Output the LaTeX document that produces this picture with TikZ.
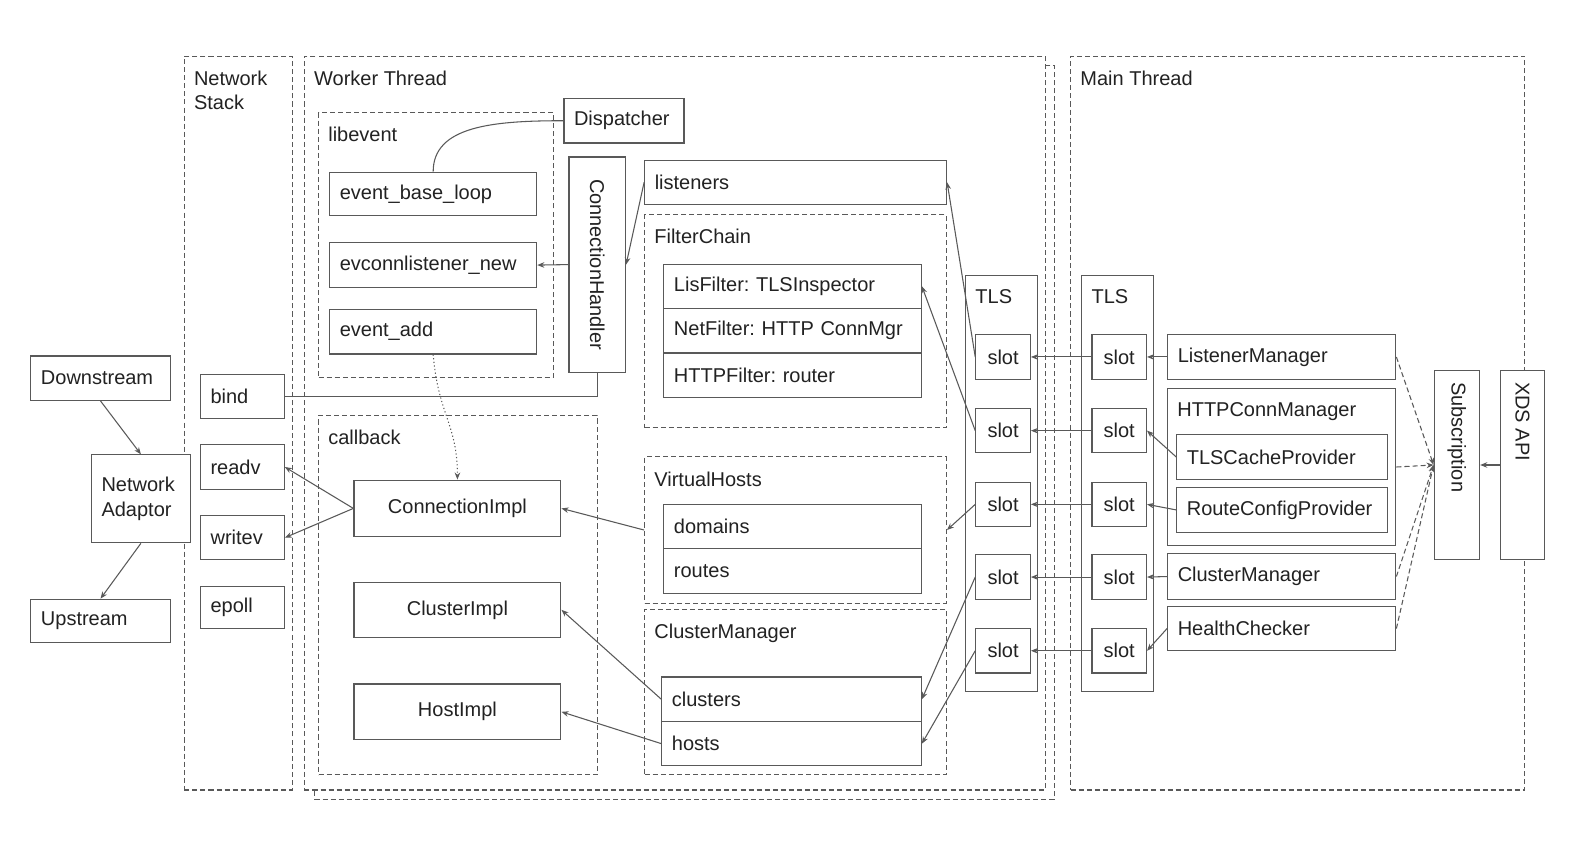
\documentclass[tikz,border=0pt]{standalone}
\usepackage{fontspec}
\setmainfont{Liberation Sans}
\usepackage{graphicx}
\usepackage{xcolor}
\definecolor{grisLinea}{RGB}{89, 89, 89}
\definecolor{grisTexto}{RGB}{34, 34, 34}
\usepackage{tikz}
\usetikzlibrary{arrows.meta,calc,positioning}
\frenchspacing
\tikzstyle{edge}  =[draw=grisLinea, line width=1.05pt,
                    >={Stealth[length=7pt,width=5.5pt]}]
\tikzstyle{dedge} =[edge, dash pattern=on 5pt off 3pt]
\tikzstyle{pedge} =[edge, dash pattern=on 1.2pt off 2.4pt]
\tikzstyle{box}   =[draw=grisLinea, fill=white, line width=1.15pt,
                    rectangle, anchor=north west, inner sep=0pt,
                    text=grisTexto]
\tikzstyle{lbox}  =[box, align=left, inner xsep=10pt]
\tikzstyle{cbox}  =[box, align=center]
\tikzstyle{slotbox}=[cbox, minimum width=54pt, minimum height=44pt]
\tikzstyle{group} =[draw=grisLinea, line width=1pt,
                    dash pattern=on 5pt off 3pt, rectangle,
                    anchor=north west, inner sep=0pt]
\tikzstyle{glabel}=[anchor=north west, inner sep=0pt, align=left,
                    text=grisTexto, xshift=10pt, yshift=-15pt]

\begin{document}
\begin{tikzpicture}[x=1pt,y=-1pt,font=\fontsize{19.8}{24}\selectfont]

        \useasboundingbox (0,0) rectangle (1568,838);

        % threads
        \node[group, minimum width=107pt, minimum height=727pt] (ns) at (182,55) {};
        \node[glabel] (nsl) at (ns.north west) {Network\\Stack};
        \node[group, minimum width=733pt, minimum height=727pt] (wtb) at (311,64) {};
        \node[group, fill=white, minimum width=734pt, minimum height=727pt] (wt) at (301,55) {};
        \node[glabel] (wtl) at (wt.north west) {Worker Thread};
        \node[group, minimum width=450pt, minimum height=727pt] (mt) at (1060,55) {};
        \node[glabel] (mtl) at (mt.north west) {Main Thread};

        % groups in the worker
        \node[group, minimum width=233pt, minimum height=262pt] (lev) at (315,111) {};
        \node[glabel] (levl) at (lev.north west) {libevent};
        \node[group, minimum width=276pt, minimum height=356pt] (cb) at (315,411) {};
        \node[glabel] (cbl) at (cb.north west) {callback};
        \node[group, minimum width=299pt, minimum height=211pt] (fc) at (638,212) {};
        \node[glabel] (fcl) at (fc.north west) {FilterChain};
        \node[group, minimum width=299pt, minimum height=145pt] (vh) at (638,452) {};
        \node[glabel] (vhl) at (vh.north west) {VirtualHosts};
        \node[group, minimum width=299pt, minimum height=164pt] (wcm) at (638,603) {};
        \node[glabel] (wcml) at (wcm.north west) {ClusterManager};

        % outside and network stack
        \node[lbox, text width=118pt, minimum height=44pt] (down) at (30,352) {Downstream};
        \node[lbox, text width=78pt, minimum height=87pt] (na) at (90,450) {Network\\Adaptor};
        \node[lbox, text width=118pt, minimum height=43pt] (up) at (30,593) {Upstream};
        \node[lbox, text width=63pt, minimum height=44pt] (bind) at (198,370) {bind};
        \node[lbox, text width=63pt, minimum height=44pt] (readv) at (198,440) {readv};
        \node[lbox, text width=63pt, minimum height=44pt] (writev) at (198,510) {writev};
        \node[lbox, text width=63pt, minimum height=42pt] (epoll) at (198,580) {epoll};

        % libevent and callback
        \node[lbox, text width=185pt, minimum height=43pt] (ebl) at (326,170) {event\_base\_loop};
        \node[lbox, text width=185pt, minimum height=44pt] (ecl) at (326,240) {evconnlistener\_new};
        \node[lbox, text width=185pt, minimum height=44pt] (ea) at (326,306) {event\_add};
        \node[lbox, text width=99pt, minimum height=44pt] (disp) at (558,97) {Dispatcher};
        \node[cbox, minimum width=56pt, minimum height=213pt] (ch) at (563,155)
            {\rotatebox{-90}{ConnectionHandler}};
        \node[cbox, minimum width=205pt, minimum height=56pt] (ci) at (350,475) {ConnectionImpl};
        \node[cbox, minimum width=205pt, minimum height=55pt] (cli) at (350,576) {ClusterImpl};
        \node[cbox, minimum width=205pt, minimum height=55pt] (hi) at (350,677) {HostImpl};

        % listeners, filters, routes, clusters
        \node[lbox, text width=279pt, minimum height=44pt] (listen) at (638,158) {listeners};
        \node[lbox, text width=235pt, minimum height=44pt] (lis) at (657,261) {LisFilter: TLSInspector};
        \node[lbox, text width=235pt, minimum height=44pt] (net) at (657,305) {NetFilter: HTTP ConnMgr};
        \node[lbox, text width=235pt, minimum height=44pt] (httpf) at (657,349) {HTTPFilter: router};
        \node[lbox, text width=235pt, minimum height=44pt] (dom) at (657,499) {domains};
        \node[lbox, text width=235pt, minimum height=44pt] (rts) at (657,543) {routes};
        \node[lbox, text width=237pt, minimum height=44pt] (clu) at (655,670) {clusters};
        \node[lbox, text width=237pt, minimum height=44pt] (hst) at (655,714) {hosts};

        % thread local slots
        \node[box, minimum width=71pt, minimum height=412pt] (wtls) at (956,272) {};
        \node[glabel] (wtlsl) at (wtls.north west) {TLS};
        \node[box, minimum width=71pt, minimum height=412pt] (mtls) at (1071,272) {};
        \node[glabel] (mtlsl) at (mtls.north west) {TLS};
        \foreach \i/\y in {1/331,2/404,3/477,4/549,5/622}
            \node[slotbox] (ws\i) at (966,\y) {slot};
        \foreach \i/\y in {1/331,2/404,3/477,4/549,5/622}
            \node[slotbox] (ms\i) at (1081,\y) {slot};

        % managers in the main thread
        \node[lbox, text width=206pt, minimum height=44pt] (lm) at (1156,331) {ListenerManager};
        \node[box, minimum width=226pt, minimum height=156pt] (hcm) at (1156,384) {};
        \node[glabel] (hcml) at (hcm.north west) {HTTPConnManager};
        \node[lbox, text width=189pt, minimum height=44pt] (tcp) at (1165,430) {TLSCacheProvider};
        \node[lbox, text width=189pt, minimum height=45pt] (rcp) at (1165,482) {RouteConfigProvider};
        \node[lbox, text width=206pt, minimum height=45pt] (cm) at (1156,548) {ClusterManager};
        \node[lbox, text width=206pt, minimum height=44pt] (hc) at (1156,600) {HealthChecker};
        \node[cbox, minimum width=45pt, minimum height=188pt] (sub) at (1420,366)
            {\rotatebox{-90}{\makebox[164pt][l]{Subscription}}};
        \node[cbox, minimum width=43pt, minimum height=188pt] (xds) at (1486,366)
            {\rotatebox{-90}{\makebox[164pt][l]{XDS API}}};

        % connectors
        \draw[edge,->] (down.south) -- (na.north);
        \draw[edge,->] (na.south) -- (up.north);
        \draw[edge] (disp.west) .. controls +(-70,0) and +(0,-45) .. (ebl.north);
        \draw[edge,->] (ch.west) -- (ecl.east);
        \draw[edge] (bind.east) -| (ch.south);
        \draw[edge,->] (listen.west) -- (ch.east);
        \draw[pedge,->] (ea.south) .. controls +(5,60) and +(0,-55) .. (ci.north);
        \draw[edge,->] (ci.west) -- (readv.east);
        \draw[edge,->] (ci.west) -- (writev.east);
        \draw[edge,->] (vh.west) -- (ci.east);
        \draw[edge,->] (clu.west) -- (cli.east);
        \draw[edge,->] (hst.west) -- (hi.east);

        \draw[edge,->] (ws1.west) -- (listen.east);
        \draw[edge,->] (ws2.west) -- (lis.east);
        \draw[edge,->] (ws3.west) -- (vh.east);
        \draw[edge,->] (ws4.west) -- (clu.east);
        \draw[edge,->] (ws5.west) -- (hst.east);
        \foreach \i in {1,...,5}
            \draw[edge,->] (ms\i.west) -- (ws\i.east);

        \draw[edge,->] (lm.west) -- (ms1.east);
        \draw[edge,->] (tcp.west) -- (ms2.east);
        \draw[edge,->] (rcp.west) -- (ms3.east);
        \draw[edge,->] (cm.west) -- (ms4.east);
        \draw[edge,->] (hc.west) -- (ms5.east);
        \foreach \n in {lm,hcm,cm,hc}
            \draw[dedge,->] (\n.east) -- (sub.west);
        \draw[edge,->] (xds.west) -- (sub.east);

    \end{tikzpicture}
\end{document}
